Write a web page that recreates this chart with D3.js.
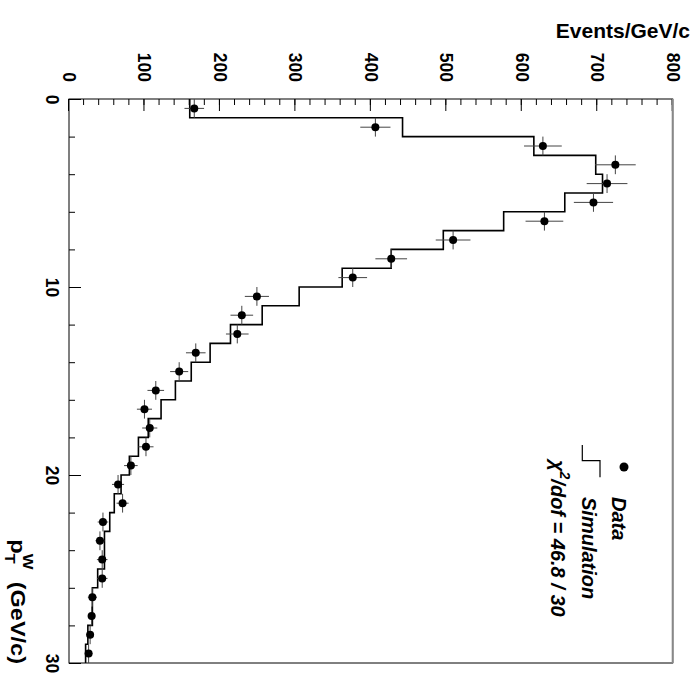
<!DOCTYPE html>
<meta charset="utf-8">
<style>
    body { margin: 0; background: #fff; }
    svg { display: block; }
    text { font-family: "Liberation Sans", Arial, sans-serif; font-weight: bold; fill: #000; }
    .tick line { stroke: #000; }
    path.hist { fill: none; stroke: #000; stroke-width: 1.6; }
    line.err { stroke: #444; stroke-width: 1; }
    circle.pt { fill: #000; }
</style>
<body>
<script src="https://d3js.org/d3.v7.min.js"></script>
<script>
    // bins of pT^W, 1 GeV/c wide (lower edges)
    var binLow = [0, 1, 2, 3, 4, 5, 6, 7, 8, 9, 10, 11, 12, 13, 14,
                  15, 16, 17, 18, 19, 20, 21, 22, 23, 24, 25, 26, 27, 28, 29];
    var dataCounts = [166, 406, 628, 724, 713, 695, 630, 509, 427, 376, 249, 229, 223, 168, 146,
                      115, 100, 107, 102, 82, 65, 71, 45, 41, 44, 44, 31, 30, 28, 26];
    var dataErrors = [13, 20, 25, 27, 27, 26, 25, 23, 21, 19, 16, 15, 15, 13, 12,
                      11, 10, 10, 10, 9, 8, 8, 7, 6, 7, 7, 6, 5, 5, 5];
    var simCounts = [160, 442, 616, 698, 707, 657, 576, 496, 427, 362, 305, 256, 214, 187, 162,
                     141, 122, 105, 92, 80, 69, 60, 54, 47, 47, 38, 31, 31, 25, 22];
    var eventTicks = [0, 100, 200, 300, 400, 500, 600, 700, 800];
    var ptTicks = [0, 10, 20, 30];

    // plot is drawn as the original (pT horizontal) and turned 90 degrees clockwise
    var W = 564, H = 603.7,
        frameLeft = 69, frameTop = 99;

    var svg = d3.select("body").append("svg")
        .attr("width", 698)
        .attr("height", 680);

    var g = svg.append("g")
        .attr("transform", "translate(" + (frameLeft + H) + "," + frameTop + ") rotate(90)");

    var x = d3.scaleLinear().domain([0, 30]).range([0, W]);
    var y = d3.scaleLinear().domain([0, 800]).range([H, 0]);

    // minor ticks
    g.append("g")
        .call(d3.axisLeft(y).tickValues(d3.range(0, 801, 20)).tickSize(-6).tickFormat(""))
        .call(function(s) { s.select(".domain").remove(); });
    g.append("g")
        .attr("transform", "translate(0," + H + ")")
        .call(d3.axisBottom(x).tickValues(d3.range(0, 31, 2)).tickSize(-6).tickFormat(""))
        .call(function(s) { s.select(".domain").remove(); });

    // major ticks + labels
    var yAxis = g.append("g")
        .call(d3.axisLeft(y).tickValues(eventTicks).tickSizeInner(-12).tickSizeOuter(0).tickPadding(17));
    var xAxis = g.append("g")
        .attr("transform", "translate(0," + H + ")")
        .call(d3.axisBottom(x).tickValues(ptTicks).tickSizeInner(-12).tickSizeOuter(0).tickPadding(11));
    [yAxis, xAxis].forEach(function(a) {
        a.select(".domain").remove();
        a.attr("font-family", null).attr("font-size", null);
        a.selectAll("text").style("font-size", "17.5px");
    });

    // frame
    g.append("rect")
        .attr("width", W).attr("height", H)
        .attr("fill", "none").attr("stroke", "#000").attr("stroke-width", 1);
    g.append("line")
        .attr("x1", 0).attr("x2", W).attr("y1", 0).attr("y2", 0)
        .attr("stroke", "#888").attr("stroke-width", 2);

    // simulation histogram
    var histPts = binLow.map(function(b, i) { return [b, simCounts[i]]; });
    histPts.push([30, simCounts[simCounts.length - 1]]);
    g.append("path")
        .attr("class", "hist")
        .attr("d", d3.line()
            .x(function(d) { return x(d[0]); })
            .y(function(d) { return y(d[1]); })
            .curve(d3.curveStepAfter)(histPts));

    // data points with errors
    var pts = g.append("g").selectAll("g")
        .data(binLow.map(function(b, i) { return {c: b + 0.5, v: dataCounts[i], e: dataErrors[i]}; }))
        .join("g");
    pts.append("line").attr("class", "err")
        .attr("x1", function(d) { return x(d.c - 0.5); })
        .attr("x2", function(d) { return x(d.c + 0.5); })
        .attr("y1", function(d) { return y(d.v); })
        .attr("y2", function(d) { return y(d.v); });
    pts.append("line").attr("class", "err")
        .attr("x1", function(d) { return x(d.c); })
        .attr("x2", function(d) { return x(d.c); })
        .attr("y1", function(d) { return y(d.v - d.e); })
        .attr("y2", function(d) { return y(d.v + d.e); });
    pts.append("circle").attr("class", "pt")
        .attr("cx", function(d) { return x(d.c); })
        .attr("cy", function(d) { return y(d.v); })
        .attr("r", 4);

    // axis titles
    svg.append("text")
        .attr("x", 690).attr("y", 38)
        .attr("text-anchor", "end")
        .style("font-size", "21px")
        .text("Events/GeV/c");

    var pt = svg.append("text")
        .attr("transform", "translate(11,664) rotate(90) scale(1.12,1)")
        .attr("text-anchor", "end")
        .style("font-size", "21px");
    pt.append("tspan").text("p");
    pt.append("tspan").attr("dy", 6).style("font-size", "15px").text("T");
    pt.append("tspan").attr("dx", -9).attr("dy", -18).style("font-size", "15px").text("W");
    pt.append("tspan").attr("dx", 5).attr("dy", 12).text(" (GeV/c)");

    // legend
    svg.append("circle").attr("class", "pt").attr("cx", 624).attr("cy", 467).attr("r", 4.5);
    svg.append("text")
        .attr("transform", "translate(612,497) rotate(90)")
        .style("font-size", "20px").style("font-style", "italic")
        .text("Data");
    svg.append("path")
        .attr("d", "M582.3,445V460.7H600V477.3")
        .attr("fill", "none").attr("stroke", "#000").attr("stroke-width", 1.2);
    svg.append("text")
        .attr("transform", "translate(582,497) rotate(90)")
        .style("font-size", "20px").style("font-style", "italic")
        .text("Simulation");
    var chi = svg.append("text")
        .attr("transform", "translate(551,460) rotate(90)")
        .style("font-size", "20px").style("font-style", "italic");
    chi.append("tspan").text("\u03c7");
    chi.append("tspan").attr("dy", -9).style("font-size", "14px").text("2");
    chi.append("tspan").attr("dy", 9).text("/dof = 46.8 / 30");
</script>
